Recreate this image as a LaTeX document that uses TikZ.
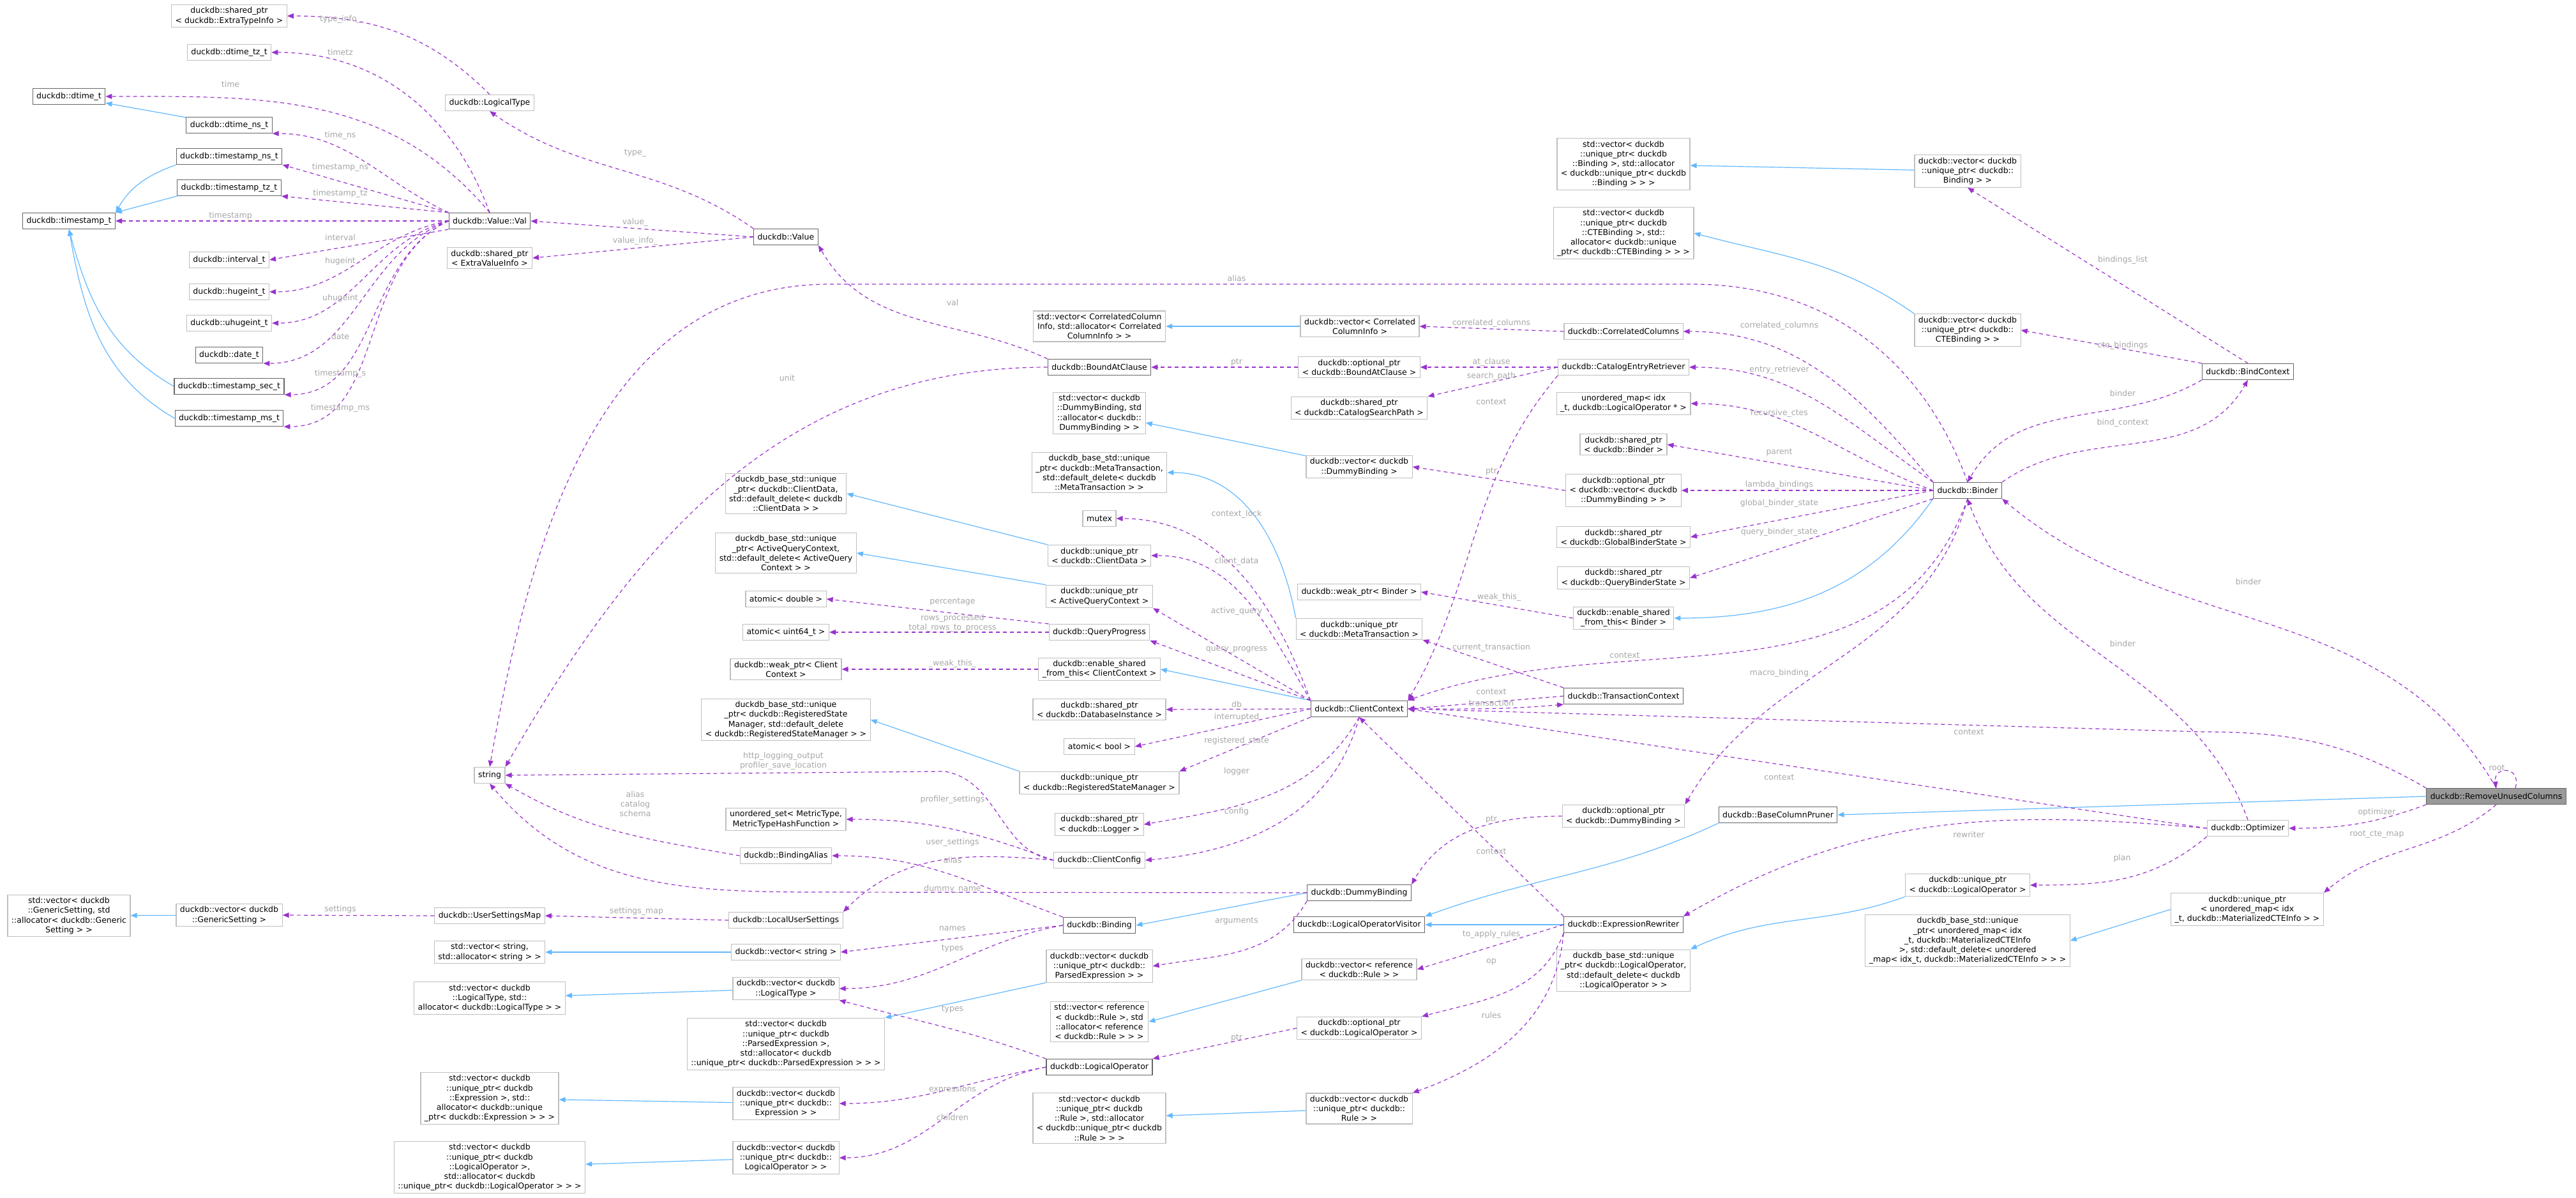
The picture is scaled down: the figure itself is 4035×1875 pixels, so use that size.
\documentclass[tikz,border=0pt]{standalone}
\usepackage{fontspec}
\setmainfont{DejaVu Sans}
\usetikzlibrary{arrows.meta, calc}

\begin{document}
\begin{tikzpicture}[x=1pt, y=-1pt,
box_style/.style={rectangle, draw=gray!50, fill=white, line width=1.2pt, align=center, inner xsep=6pt, inner ysep=4pt, minimum height=25pt, font=\fontsize{12.5}{15.2}\selectfont},
hl_style/.style={box_style, draw=black!60},
root_style/.style={box_style, draw=black!60, fill=black!40},
use_style/.style={draw={rgb,255:red,154;green,50;blue,205}, line width=1.2pt, dash pattern=on 6pt off 5pt, -{Triangle[length=10pt, width=8pt, fill={rgb,255:red,154;green,50;blue,205}]}},
inh_style/.style={draw={rgb,255:red,99;green,184;blue,255}, line width=1.2pt, -{Triangle[length=10pt, width=8pt, fill={rgb,255:red,99;green,184;blue,255}]}},
lbl_style/.style={text=black!35, font=\fontsize{12.5}{15.2}\selectfont, align=center, inner sep=0pt},
]
\useasboundingbox (0,0) rectangle (4035,1875);

% --- value types
\node[box_style] (sp_eti) at (359,25) {duckdb::shared\_ptr\\< duckdb::ExtraTypeInfo >};
\node[box_style] (dtime_tz) at (359,82) {duckdb::dtime\_tz\_t};
\node[hl_style] (dtime) at (108,151) {duckdb::dtime\_t};
\node[hl_style] (dtime_ns) at (359,196) {duckdb::dtime\_ns\_t};
\node[hl_style] (ts_ns) at (359,245) {duckdb::timestamp\_ns\_t};
\node[hl_style] (ts_tz) at (359,294) {duckdb::timestamp\_tz\_t};
\node[hl_style] (ts) at (108,346) {duckdb::timestamp\_t};
\node[box_style] (interval) at (359,407) {duckdb::interval\_t};
\node[box_style] (hugeint) at (359,457) {duckdb::hugeint\_t};
\node[box_style] (uhugeint) at (359,506) {duckdb::uhugeint\_t};
\node[hl_style] (date) at (359,556) {duckdb::date\_t};
\node[hl_style] (ts_sec) at (359,605) {duckdb::timestamp\_sec\_t};
\node[hl_style] (ts_ms) at (359,655) {duckdb::timestamp\_ms\_t};
\node[box_style] (ltype) at (767,161) {duckdb::LogicalType};
\node[hl_style] (val) at (767,346) {duckdb::Value::Val};
\node[box_style] (sp_evi) at (767,404) {duckdb::shared\_ptr\\< ExtraValueInfo >};
\node[hl_style] (value) at (1231,371) {duckdb::Value};
\node[box_style] (string) at (767,1214) {string};

% --- settings and vectors
\node[box_style] (gs_std) at (108,1434) {std::vector< duckdb\\::GenericSetting, std\\::allocator< duckdb::Generic\\Setting > >};
\node[box_style] (gs_vec) at (359,1433) {duckdb::vector< duckdb\\::GenericSetting >};
\node[box_style] (usm) at (767,1434) {duckdb::UserSettingsMap};
\node[box_style] (vstr_std) at (767,1491) {std::vector< string,\\std::allocator< string > >};
\node[box_style] (vlt_std) at (767,1563) {std::vector< duckdb\\::LogicalType, std::\\allocator< duckdb::LogicalType > >};
\node[box_style] (vexpr_std) at (767,1720) {std::vector< duckdb\\::unique\_ptr< duckdb\\::Expression >, std::\\allocator< duckdb::unique\\\_ptr< duckdb::Expression > > >};
\node[box_style] (vlo_std) at (767,1828) {std::vector< duckdb\\::unique\_ptr< duckdb\\::LogicalOperator >,\\std::allocator< duckdb\\::unique\_ptr< duckdb::LogicalOperator > > >};

% --- column x=1231
\node[box_style] (cd_base) at (1231,773) {duckdb\_base\_std::unique\\\_ptr< duckdb::ClientData,\\std::default\_delete< duckdb\\::ClientData > >};
\node[box_style] (aqc_base) at (1231,866) {duckdb\_base\_std::unique\\\_ptr< ActiveQueryContext,\\std::default\_delete< ActiveQuery\\Context > >};
\node[box_style] (a_double) at (1231,938) {atomic< double >};
\node[box_style] (a_uint) at (1231,990) {atomic< uint64\_t >};
\node[box_style] (wp_cc) at (1231,1048) {duckdb::weak\_ptr< Client\\Context >};
\node[box_style] (rsm_base) at (1231,1127) {duckdb\_base\_std::unique\\\_ptr< duckdb::RegisteredState\\Manager, std::default\_delete\\< duckdb::RegisteredStateManager > >};
\node[box_style] (us_metric) at (1231,1283) {unordered\_set< MetricType,\\MetricTypeHashFunction >};
\node[box_style] (balias) at (1231,1340) {duckdb::BindingAlias};
\node[box_style] (lus) at (1231,1441) {duckdb::LocalUserSettings};
\node[box_style] (vstr) at (1231,1491) {duckdb::vector< string >};
\node[box_style] (vlt) at (1231,1548) {duckdb::vector< duckdb\\::LogicalType >};
\node[box_style] (vpe_std) at (1231,1635) {std::vector< duckdb\\::unique\_ptr< duckdb\\::ParsedExpression >,\\std::allocator< duckdb\\::unique\_ptr< duckdb::ParsedExpression > > >};
\node[box_style] (vexpr) at (1231,1728) {duckdb::vector< duckdb\\::unique\_ptr< duckdb::\\Expression > >};
\node[box_style] (vlo) at (1231,1813) {duckdb::vector< duckdb\\::unique\_ptr< duckdb::\\LogicalOperator > >};

% --- column x=1722
\node[box_style] (vcci_std) at (1722,511) {std::vector< CorrelatedColumn\\Info, std::allocator< Correlated\\ColumnInfo > >};
\node[hl_style] (bac) at (1722,575) {duckdb::BoundAtClause};
\node[box_style] (vdb_std) at (1722,647) {std::vector< duckdb\\::DummyBinding, std\\::allocator< duckdb::\\DummyBinding > >};
\node[box_style] (mt_base) at (1722,740) {duckdb\_base\_std::unique\\\_ptr< duckdb::MetaTransaction,\\std::default\_delete< duckdb\\::MetaTransaction > >};
\node[box_style] (mutex) at (1722,812) {mutex};
\node[box_style] (up_cd) at (1722,870) {duckdb::unique\_ptr\\< duckdb::ClientData >};
\node[box_style] (up_aqc) at (1722,934) {duckdb::unique\_ptr\\< ActiveQueryContext >};
\node[box_style] (qp) at (1722,990) {duckdb::QueryProgress};
\node[box_style] (esf_cc) at (1722,1048) {duckdb::enable\_shared\\\_from\_this< ClientContext >};
\node[box_style] (sp_di) at (1722,1111) {duckdb::shared\_ptr\\< duckdb::DatabaseInstance >};
\node[box_style] (a_bool) at (1722,1169) {atomic< bool >};
\node[box_style] (up_rsm) at (1722,1226) {duckdb::unique\_ptr\\< duckdb::RegisteredStateManager >};
\node[box_style] (sp_logger) at (1722,1291) {duckdb::shared\_ptr\\< duckdb::Logger >};
\node[box_style] (ccfg) at (1722,1347) {duckdb::ClientConfig};
\node[hl_style] (binding) at (1722,1449) {duckdb::Binding};
\node[box_style] (vpe) at (1722,1513) {duckdb::vector< duckdb\\::unique\_ptr< duckdb::\\ParsedExpression > >};
\node[box_style] (vrr_std) at (1722,1600) {std::vector< reference\\< duckdb::Rule >, std\\::allocator< reference\\< duckdb::Rule > > >};
\node[hl_style] (lo) at (1722,1671) {duckdb::LogicalOperator};
\node[box_style] (vrule_std) at (1722,1751) {std::vector< duckdb\\::unique\_ptr< duckdb\\::Rule >, std::allocator\\< duckdb::unique\_ptr< duckdb\\::Rule > > >};

% --- column x=2129
\node[box_style] (vcci) at (2130,511) {duckdb::vector< Correlated\\ColumnInfo >};
\node[box_style] (opt_bac) at (2129,575) {duckdb::optional\_ptr\\< duckdb::BoundAtClause >};
\node[box_style] (sp_csp) at (2129,639) {duckdb::shared\_ptr\\< duckdb::CatalogSearchPath >};
\node[box_style] (vdb) at (2129,731) {duckdb::vector< duckdb\\::DummyBinding >};
\node[box_style] (wp_binder) at (2129,927) {duckdb::weak\_ptr< Binder >};
\node[box_style] (up_mt) at (2129,985) {duckdb::unique\_ptr\\< duckdb::MetaTransaction >};
\node[hl_style] (cctx) at (2129,1110) {duckdb::ClientContext};
\node[hl_style] (dummy) at (2129,1398) {duckdb::DummyBinding};
\node[hl_style] (lov) at (2129,1448) {duckdb::LogicalOperatorVisitor};
\node[box_style] (vrr) at (2129,1518) {duckdb::vector< reference\\< duckdb::Rule > >};
\node[box_style] (opt_lo) at (2129,1610) {duckdb::optional\_ptr\\< duckdb::LogicalOperator >};
\node[box_style] (vrule) at (2129,1736) {duckdb::vector< duckdb\\::unique\_ptr< duckdb::\\Rule > >};

% --- column x=2543
\node[box_style] (vbind_std) at (2543,257) {std::vector< duckdb\\::unique\_ptr< duckdb\\::Binding >, std::allocator\\< duckdb::unique\_ptr< duckdb\\::Binding > > >};
\node[box_style] (vcte_std) at (2543,365) {std::vector< duckdb\\::unique\_ptr< duckdb\\::CTEBinding >, std::\\allocator< duckdb::unique\\\_ptr< duckdb::CTEBinding > > >};
\node[box_style] (ccols) at (2543,519) {duckdb::CorrelatedColumns};
\node[box_style] (cer) at (2543,575) {duckdb::CatalogEntryRetriever};
\node[box_style] (umap_lo) at (2543,632) {unordered\_map< idx\\\_t, duckdb::LogicalOperator * >};
\node[box_style] (sp_binder) at (2543,696) {duckdb::shared\_ptr\\< duckdb::Binder >};
\node[box_style] (opt_vdb) at (2543,768) {duckdb::optional\_ptr\\< duckdb::vector< duckdb\\::DummyBinding > >};
\node[box_style] (sp_gbs) at (2543,841) {duckdb::shared\_ptr\\< duckdb::GlobalBinderState >};
\node[box_style] (sp_qbs) at (2543,905) {duckdb::shared\_ptr\\< duckdb::QueryBinderState >};
\node[box_style] (esf_binder) at (2543,968) {duckdb::enable\_shared\\\_from\_this< Binder >};
\node[hl_style] (tctx) at (2543,1090) {duckdb::TransactionContext};
\node[box_style] (opt_dummy) at (2543,1278) {duckdb::optional\_ptr\\< duckdb::DummyBinding >};
\node[hl_style] (erw) at (2543,1448) {duckdb::ExpressionRewriter};
\node[box_style] (lo_base) at (2543,1520) {duckdb\_base\_std::unique\\\_ptr< duckdb::LogicalOperator,\\std::default\_delete< duckdb\\::LogicalOperator > >};
\node[hl_style] (bcp) at (2785,1276) {duckdb::BaseColumnPruner};

% --- right part
\node[box_style] (vbind) at (3082,268) {duckdb::vector< duckdb\\::unique\_ptr< duckdb::\\Binding > >};
\node[box_style] (vcte) at (3082,517) {duckdb::vector< duckdb\\::unique\_ptr< duckdb::\\CTEBinding > >};
\node[hl_style] (binder) at (3082,768) {duckdb::Binder};
\node[box_style] (up_lo) at (3082,1386) {duckdb::unique\_ptr\\< duckdb::LogicalOperator >};
\node[box_style] (cte_base) at (3082,1473) {duckdb\_base\_std::unique\\\_ptr< unordered\_map< idx\\\_t, duckdb::MaterializedCTEInfo\\>, std::default\_delete< unordered\\\_map< idx\_t, duckdb::MaterializedCTEInfo > > >};
\node[hl_style] (bctx) at (3521,582) {duckdb::BindContext};
\node[box_style] (optimizer) at (3521,1297) {duckdb::Optimizer};
\node[box_style] (up_cte) at (3520,1424) {duckdb::unique\_ptr\\< unordered\_map< idx\\\_t, duckdb::MaterializedCTEInfo > >};
\node[root_style] (ruc) at (3910,1247) {duckdb::RemoveUnusedColumns};

% waypoints
\coordinate (alias_r) at (2650,445);
\coordinate (alias_l) at (1300,445);
\coordinate (ctx_r) at (3450,1146);
\coordinate (dn_l) at (1300,1397);
\coordinate (http_r) at (1480,1208);

% inheritance
\draw[inh_style] (dtime_ns) -- (dtime);
\draw[inh_style] (ts_ns.south west) to[out=200,in=60] (ts.north east);
\draw[inh_style] (ts_tz.south west) -- (ts.north east);
\draw[inh_style] (ts_sec.west) to[out=150,in=-75] (ts.south);
\draw[inh_style] (ts_ms.west) to[out=150,in=-80] (ts.south);
\draw[inh_style] (gs_vec) -- (gs_std);
\draw[inh_style] (vstr) -- (vstr_std);
\draw[inh_style] (vlt) -- (vlt_std);
\draw[inh_style] (vpe.south west) -- (vpe_std.north east);
\draw[inh_style] (vexpr) -- (vexpr_std);
\draw[inh_style] (vlo) -- (vlo_std);
\draw[inh_style] (vcci) -- (vcci_std);
\draw[inh_style] (vdb) -- (vdb_std);
\draw[inh_style] (up_mt.north west) to[out=100,in=0] (mt_base.east);
\draw[inh_style] (up_cd.north west) -- (cd_base.east);
\draw[inh_style] (up_aqc.north west) -- (aqc_base.east);
\draw[inh_style] (up_rsm.north west) -- (rsm_base.east);
\draw[inh_style] (cctx.north west) -- (esf_cc.east);
\draw[inh_style] (binder.south west) to[out=-125,in=0] (esf_binder.east);
\draw[inh_style] (vbind) -- (vbind_std);
\draw[inh_style] (vcte.north west) to[out=145,in=-15] (vcte_std.east);
\draw[inh_style] (dummy.west) -- (binding.east);
\draw[inh_style] (erw) -- (lov);
\draw[inh_style] (ruc.west) -- (bcp.east);
\draw[inh_style] (bcp.south west) to[out=-155,in=20] (lov.north east);
\draw[inh_style] (up_lo.south west) to[out=-160,in=25] (lo_base.north east);
\draw[inh_style] (vrr.south west) -- (vrr_std.east);
\draw[inh_style] (vrule) -- (vrule_std);
\draw[inh_style] (up_cte.west) -- (cte_base.east);

% members of Value
\draw[use_style] (ltype.north) to[out=135,in=0] (sp_eti.east);
\draw[use_style] (val.north) to[out=110,in=0] (dtime_tz.east);
\draw[use_style] (val.north) to[out=130,in=0] (dtime.east);
\draw[use_style] (val.north west) to[out=155,in=0] (dtime_ns.south east);
\draw[use_style] (val.north west) -- (ts_ns.south east);
\draw[use_style] (val.north west) -- (ts_tz.south east);
\draw[use_style] (val.west) -- (ts.east);
\draw[use_style] (val.south west) to[out=190,in=10] (interval.east);
\draw[use_style] (val.west) to[out=190,in=0] (hugeint.east);
\draw[use_style] (val.west) to[out=195,in=0] (uhugeint.east);
\draw[use_style] (val.west) to[out=200,in=0] (date.south east);
\draw[use_style] (val.west) to[out=205,in=0] (ts_sec.south east);
\draw[use_style] (val.west) to[out=205,in=0] (ts_ms.south east);
\draw[use_style] (value.north west) to[out=145,in=-35] (ltype.south);
\draw[use_style] (value.west) -- (val.east);
\draw[use_style] (value.west) -- (sp_evi.east);
\draw[use_style] (bac.north west) to[out=155,in=-60] (value.south east);
\draw[use_style] (bac.west) to[out=180,in=60] (string.north east);
\draw[use_style] (binder.north) to[out=110,in=0] (alias_r) -- (alias_l) to[out=180,in=80] (string.north);

% Binder
\draw[use_style] (binder.north west) to[out=130,in=0] (ccols.east);
\draw[use_style] (binder.north west) to[out=145,in=0] (cer.east);
\draw[use_style] (binder.west) to[out=160,in=0] (umap_lo.east);
\draw[use_style] (binder.west) -- (sp_binder.east);
\draw[use_style] (binder.west) -- (opt_vdb.east);
\draw[use_style] (binder.west) -- (sp_gbs.east);
\draw[use_style] (binder.south west) -- (sp_qbs.east);
\draw[use_style] (binder.south) to[out=-110,in=20] (cctx.north east);
\draw[use_style] (binder.south) to[out=-105,in=60] (opt_dummy.north east);
\draw[use_style] (binder.north east) to[out=35,in=-120] (bctx.south);
\draw[use_style] (bctx.south west) to[out=-150,in=60] (binder.north);
\draw[use_style] (bctx.north) -- (vbind.south);
\draw[use_style] (bctx.north west) -- (vcte.east);
\draw[use_style] (ccols.west) -- (vcci.east);
\draw[use_style] (cer.west) -- (opt_bac.east);
\draw[use_style] (cer.west) -- (sp_csp.north east);
\draw[use_style] (cer.south west) to[out=-130,in=60] (cctx.north east);
\draw[use_style] (opt_bac.west) -- (bac.east);
\draw[use_style] (opt_vdb.west) -- (vdb.east);
\draw[use_style] (esf_binder.west) -- (wp_binder.east);

% ClientContext
\draw[use_style] (cctx.north west) to[out=110,in=0] (mutex.east);
\draw[use_style] (cctx.north west) to[out=120,in=0] (up_cd.east);
\draw[use_style] (cctx.north west) -- (up_aqc.south east);
\draw[use_style] (cctx.north west) -- (qp.south east);
\draw[use_style] (cctx.west) -- (sp_di.east);
\draw[use_style] (cctx.west) -- (a_bool.east);
\draw[use_style] (cctx.south west) -- (up_rsm.north east);
\draw[use_style] (cctx.south) to[out=-120,in=10] (sp_logger.east);
\draw[use_style] (cctx.south) to[out=-105,in=5] (ccfg.east);
\draw[use_style] (cctx.east) to[out=0,in=185] (tctx.south west);
\draw[use_style] (tctx.west) -- (cctx.east);
\draw[use_style] (tctx.north west) -- (up_mt.south east);
\draw[use_style] (qp.north west) -- (a_double.east);
\draw[use_style] (qp.west) -- (a_uint.east);
\draw[use_style] (esf_cc.west) -- (wp_cc.east);

% ClientConfig, Binding
\draw[use_style] (ccfg.west) to[out=170,in=-10] (http_r) -- (string.east);
\draw[use_style] (ccfg.west) to[out=160,in=0] (us_metric.east);
\draw[use_style] (ccfg.west) to[out=175,in=45] (lus.north east);
\draw[use_style] (lus.west) -- (usm.east);
\draw[use_style] (usm.west) -- (gs_vec.east);
\draw[use_style] (balias.west) to[out=170,in=-30] (string.south east);
\draw[use_style] (binding.north west) to[out=160,in=0] (balias.east);
\draw[use_style] (binding.west) -- (vstr.east);
\draw[use_style] (binding.west) to[out=190,in=0] (vlt.east);
\draw[use_style] (dummy.west) -- (dn_l) to[out=180,in=-50] (string.south);
\draw[use_style] (dummy.south west) to[out=-120,in=10] (vpe.east);
\draw[use_style] (opt_dummy.west) to[out=180,in=60] (dummy.north east);

% LogicalOperator, ExpressionRewriter
\draw[use_style] (lo.north west) to[out=160,in=-15] (vlt.south east);
\draw[use_style] (lo.west) to[out=190,in=0] (vexpr.east);
\draw[use_style] (lo.west) to[out=190,in=0] (vlo.east);
\draw[use_style] (opt_lo.west) -- (lo.north east);
\draw[use_style] (erw.north west) -- (cctx.south);
\draw[use_style] (erw.west) -- (vrr.east);
\draw[use_style] (erw.south west) to[out=-110,in=15] (opt_lo.north east);
\draw[use_style] (erw.south west) to[out=-95,in=20] (vrule.north east);

% RemoveUnusedColumns, Optimizer
\draw[use_style] (ruc.north west) to[out=150,in=0] (ctx_r) -- (cctx.east);
\draw[use_style] (ruc.north) to[out=120,in=-40] (binder.south east);
\draw[use_style] ($(ruc.north)+(30,0)$) .. controls ($(ruc.north)+(40,-35)$) and ($(ruc.north)+(-5,-35)$) .. (ruc.north);
\draw[use_style] (ruc.south west) to[out=-160,in=0] (optimizer.east);
\draw[use_style] (ruc.south) to[out=-140,in=40] (up_cte.north east);
\draw[use_style] (optimizer.north) to[out=110,in=-70] (binder.south);
\draw[use_style] (optimizer.west) -- (cctx.east);
\draw[use_style] (optimizer.west) to[out=175,in=30] (erw.north east);
\draw[use_style] (optimizer.south west) to[out=-140,in=0] (up_lo.east);

% labels
\node[lbl_style] (l_type_info) at (533,30) {type\_info\_};
\node[lbl_style] (l_timetz) at (533,82) {timetz};
\node[lbl_style] (l_time) at (361,132) {time};
\node[lbl_style] (l_time_ns) at (533,212) {time\_ns};
\node[lbl_style] (l_ts_ns) at (533,262) {timestamp\_ns};
\node[lbl_style] (l_ts_tz) at (533,303) {timestamp\_tz};
\node[lbl_style] (l_ts) at (361,338) {timestamp};
\node[lbl_style] (l_interval) at (533,372) {interval};
\node[lbl_style] (l_hugeint) at (533,409) {hugeint};
\node[lbl_style] (l_uhugeint) at (533,467) {uhugeint};
\node[lbl_style] (l_date) at (533,527) {date};
\node[lbl_style] (l_ts_s) at (533,585) {timestamp\_s};
\node[lbl_style] (l_ts_ms) at (533,639) {timestamp\_ms};
\node[lbl_style] (l_type) at (995,240) {type\_};
\node[lbl_style] (l_value) at (995,348) {value\_};
\node[lbl_style] (l_value_info) at (995,377) {value\_info\_};
\node[lbl_style] (l_unit) at (1233,592) {unit};
\node[lbl_style] (l_val) at (1492,474) {val};
\node[lbl_style] (l_alias) at (1937,436) {alias};
\node[lbl_style] (l_settings) at (533,1424) {settings};
\node[lbl_style] (l_settings_map) at (997,1427) {settings\_map};
\node[lbl_style] (l_acs) at (995,1259) {alias\\catalog\\schema};
\node[lbl_style] (l_http) at (1227,1192) {http\_logging\_output\\profiler\_save\_location};
\node[lbl_style] (l_cc1) at (2336,506) {correlated\_columns};
\node[lbl_style] (l_ptr1) at (1937,567) {ptr};
\node[lbl_style] (l_at) at (2336,567) {at\_clause};
\node[lbl_style] (l_sp) at (2336,589) {search\_path};
\node[lbl_style] (l_ctx1) at (2336,629) {context};
\node[lbl_style] (l_ptr2) at (2336,738) {ptr};
\node[lbl_style] (l_lock) at (1937,805) {context\_lock};
\node[lbl_style] (l_cd) at (1937,879) {client\_data};
\node[lbl_style] (l_wt1) at (2345,935) {\_weak\_this\_};
\node[lbl_style] (l_pct) at (1492,942) {percentage};
\node[lbl_style] (l_rows) at (1492,976) {rows\_processed\\total\_rows\_to\_process};
\node[lbl_style] (l_wt2) at (1492,1039) {\_weak\_this\_};
\node[lbl_style] (l_aq) at (1937,957) {active\_query};
\node[lbl_style] (l_qp) at (1937,1017) {query\_progress};
\node[lbl_style] (l_db) at (1937,1103) {db};
\node[lbl_style] (l_intr) at (1937,1123) {interrupted};
\node[lbl_style] (l_rs) at (1937,1160) {registered\_state};
\node[lbl_style] (l_logger) at (1937,1208) {logger};
\node[lbl_style] (l_config) at (1937,1271) {config};
\node[lbl_style] (l_prof) at (1492,1252) {profiler\_settings};
\node[lbl_style] (l_us) at (1492,1319) {user\_settings};
\node[lbl_style] (l_alias2) at (1492,1347) {alias};
\node[lbl_style] (l_dn) at (1492,1392) {dummy\_name};
\node[lbl_style] (l_names) at (1492,1454) {names};
\node[lbl_style] (l_types1) at (1492,1485) {types};
\node[lbl_style] (l_types2) at (1492,1580) {types};
\node[lbl_style] (l_expr) at (1492,1706) {expressions};
\node[lbl_style] (l_children) at (1492,1750) {children};
\node[lbl_style] (l_args) at (1937,1442) {arguments};
\node[lbl_style] (l_ptr3) at (1937,1625) {ptr};
\node[lbl_style] (l_ct) at (2336,1014) {current\_transaction};
\node[lbl_style] (l_ctx2) at (2545,1026) {context};
\node[lbl_style] (l_ctx3) at (2336,1083) {context};
\node[lbl_style] (l_tr) at (2336,1101) {transaction};
\node[lbl_style] (l_ptr4) at (2336,1283) {ptr};
\node[lbl_style] (l_ctx4) at (2336,1333) {context};
\node[lbl_style] (l_tar) at (2336,1463) {to\_apply\_rules};
\node[lbl_style] (l_op) at (2336,1506) {op};
\node[lbl_style] (l_rules) at (2336,1590) {rules};
\node[lbl_style] (l_bl) at (3325,407) {bindings\_list};
\node[lbl_style] (l_cteb) at (3325,541) {cte\_bindings};
\node[lbl_style] (l_binder1) at (3325,616) {binder};
\node[lbl_style] (l_bc) at (3325,662) {bind\_context};
\node[lbl_style] (l_cc2) at (2787,510) {correlated\_columns};
\node[lbl_style] (l_er) at (2787,579) {entry\_retriever};
\node[lbl_style] (l_rc) at (2787,647) {recursive\_ctes};
\node[lbl_style] (l_parent) at (2787,708) {parent};
\node[lbl_style] (l_lb) at (2787,759) {lambda\_bindings};
\node[lbl_style] (l_gbs) at (2787,788) {global\_binder\_state};
\node[lbl_style] (l_qbs) at (2787,833) {query\_binder\_state};
\node[lbl_style] (l_binder2) at (3522,911) {binder};
\node[lbl_style] (l_binder3) at (3325,1008) {binder};
\node[lbl_style] (l_mb) at (2787,1054) {macro\_binding};
\node[lbl_style] (l_ctx5) at (3084,1146) {context};
\node[lbl_style] (l_ctx6) at (2787,1217) {context};
\node[lbl_style] (l_root) at (3911,1202) {root};
\node[lbl_style] (l_opt) at (3723,1272) {optimizer};
\node[lbl_style] (l_rcm) at (3723,1307) {root\_cte\_map};
\node[lbl_style] (l_rw) at (3084,1307) {rewriter};
\node[lbl_style] (l_plan) at (3324,1344) {plan};
\end{tikzpicture}
\end{document}
